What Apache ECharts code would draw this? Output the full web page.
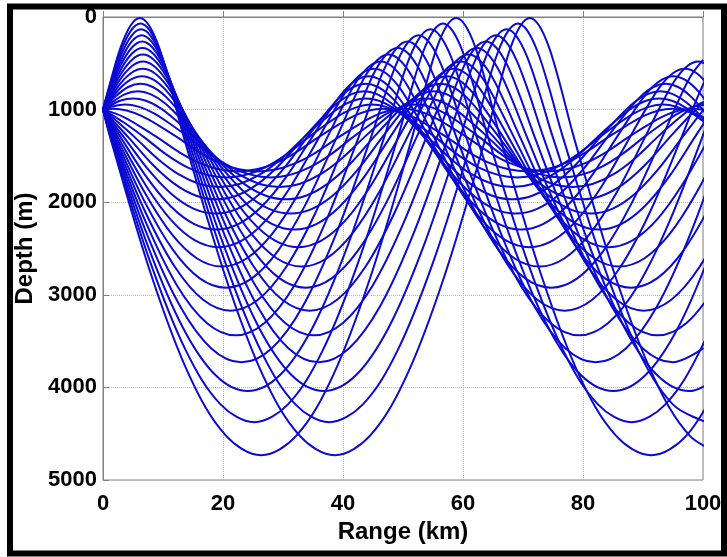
<!DOCTYPE html>
<html>
<head>
<meta charset="utf-8">
<script src="https://cdn.jsdelivr.net/npm/echarts@6/dist/echarts.min.js"></script>
<style>
html,body{margin:0;padding:0;background:#fff;}
#chart{width:727px;height:557px;}
</style>
</head>
<body>
<div id="chart"></div>
<script>
// Axis ticks
const rangeTicks = [0, 20, 40, 60, 80, 100];
const depthTicks = [0, 1000, 2000, 3000, 4000, 5000];
const xTitle = 'Range (km)';
const yTitle = 'Depth (m)';

// Rays launched upward from the 1000 m source: [range km, depth m]
const upRays = [
[[0,1000],[1.08,736],[2.91,333],[4.60,91],[6.14,10],[7.68,91],[9.37,333],[11.20,736],[13.48,1300],[20.40,2802],[26.69,3875],[32.73,4518],[38.64,4733],[44.55,4518],[50.59,3875],[56.88,2802],[63.80,1300],[66.08,736],[67.91,333],[69.60,91],[71.14,10],[72.68,91],[74.37,333],[76.20,736],[78.48,1300],[85.40,2802],[91.69,3875],[97.73,4518],[103.64,4733]],
[[0,1000],[1.05,762],[2.93,378],[4.66,147],[6.24,70],[7.82,147],[9.55,378],[11.43,762],[13.76,1300],[20.34,2645],[26.32,3606],[32.07,4183],[37.69,4375],[43.31,4183],[49.06,3606],[55.04,2645],[61.62,1300],[63.95,762],[65.83,378],[67.56,147],[69.14,70],[70.72,147],[72.45,378],[74.33,762],[76.66,1300],[83.24,2645],[89.22,3606],[94.97,4183],[100.59,4375]],
[[0,1000],[1.01,789],[2.94,425],[4.72,206],[6.34,133],[7.96,206],[9.74,425],[11.67,789],[14.06,1300],[20.31,2499],[26.00,3355],[31.46,3869],[36.80,4040],[42.14,3869],[47.60,3355],[53.29,2499],[59.54,1300],[61.93,789],[63.86,425],[65.64,206],[67.26,133],[68.88,206],[70.66,425],[72.59,789],[74.98,1300],[81.23,2499],[86.92,3355],[92.38,3869],[97.72,4040],[103.06,3869]],
[[0,1000],[0.96,817],[2.95,473],[4.77,266],[6.44,197],[8.11,266],[9.93,473],[11.92,817],[14.38,1300],[20.31,2362],[25.71,3121],[30.89,3576],[35.96,3728],[41.03,3576],[46.21,3121],[51.61,2362],[57.54,1300],[60.00,817],[61.99,473],[63.81,266],[65.48,197],[67.15,266],[68.97,473],[70.96,817],[73.42,1300],[79.35,2362],[84.75,3121],[89.93,3576],[95.00,3728],[100.07,3576]],
[[0,1000],[0.90,847],[2.94,523],[4.82,329],[6.53,264],[8.24,329],[10.12,523],[12.16,847],[14.69,1300],[20.32,2235],[25.44,2904],[30.36,3304],[35.17,3438],[39.98,3304],[44.90,2904],[50.02,2235],[55.65,1300],[58.18,847],[60.22,523],[62.10,329],[63.81,264],[65.52,329],[67.40,523],[69.44,847],[71.97,1300],[77.60,2235],[82.72,2904],[87.64,3304],[92.45,3438],[97.26,3304],[102.18,2904]],
[[0,1000],[0.80,877],[2.90,576],[4.83,394],[6.59,334],[8.35,394],[10.28,576],[12.38,877],[14.98,1300],[20.33,2119],[25.20,2703],[29.87,3054],[34.44,3171],[39.01,3054],[43.68,2703],[48.55,2119],[53.90,1300],[56.50,877],[58.60,576],[60.53,394],[62.29,334],[64.05,394],[65.98,576],[68.08,877],[70.68,1300],[76.03,2119],[80.90,2703],[85.57,3054],[90.14,3171],[94.71,3054],[99.38,2703],[104.25,2119]],
[[0,1000],[0.69,909],[2.85,630],[4.84,462],[6.65,406],[8.46,462],[10.45,630],[12.61,909],[15.29,1300],[20.37,2010],[24.99,2517],[29.43,2822],[33.77,2923],[38.11,2822],[42.55,2517],[47.17,2010],[52.25,1300],[54.93,909],[57.09,630],[59.08,462],[60.89,406],[62.70,462],[64.69,630],[66.85,909],[69.53,1300],[74.61,2010],[79.23,2517],[83.67,2822],[88.01,2923],[92.35,2822],[96.79,2517],[101.41,2010]],
[[0,1000],[0.52,942],[2.74,686],[4.79,532],[6.66,481],[8.53,532],[10.58,686],[12.80,942],[15.56,1300],[20.39,1910],[24.78,2346],[29.00,2608],[33.13,2695],[37.26,2608],[41.48,2346],[45.87,1910],[50.70,1300],[53.46,942],[55.68,686],[57.73,532],[59.60,481],[61.47,532],[63.52,686],[65.74,942],[68.50,1300],[73.33,1910],[77.72,2346],[81.94,2608],[86.07,2695],[90.20,2608],[94.42,2346],[98.81,1910],[103.64,1300]],
[[0,1000],[0.30,976],[2.60,744],[4.70,605],[6.63,559],[8.56,605],[10.66,744],[12.96,976],[15.80,1300],[20.40,1819],[24.58,2190],[28.60,2412],[32.53,2486],[36.46,2412],[40.48,2190],[44.66,1819],[49.26,1300],[52.10,976],[54.40,744],[56.50,605],[58.43,559],[60.36,605],[62.46,744],[64.76,976],[67.60,1300],[72.20,1819],[76.38,2190],[80.40,2412],[84.33,2486],[88.26,2412],[92.28,2190],[96.46,1819],[101.06,1300]],
[[0,1000],[2.34,804],[4.52,680],[6.50,639],[8.48,680],[10.66,804],[13.02,1011],[15.95,1300],[20.33,1735],[24.32,2046],[28.14,2233],[31.89,2295],[35.64,2233],[39.46,2046],[43.45,1735],[47.83,1300],[50.76,1011],[53.12,804],[55.30,680],[57.28,639],[59.26,680],[61.44,804],[63.80,1011],[66.73,1300],[71.11,1735],[75.10,2046],[78.92,2233],[82.67,2295],[86.42,2233],[90.24,2046],[94.23,1735],[98.61,1300],[101.53,1011]],
[[0,1000],[1.96,865],[4.20,756],[6.25,720],[8.30,756],[10.54,865],[12.98,1046],[16.00,1300],[20.20,1660],[24.01,1917],[27.67,2072],[31.26,2123],[34.85,2072],[38.51,1917],[42.32,1660],[46.52,1300],[49.54,1046],[51.98,865],[54.22,756],[56.27,720],[58.32,756],[60.56,865],[63.00,1046],[66.02,1300],[70.22,1660],[74.03,1917],[77.69,2072],[81.28,2123],[84.87,2072],[88.53,1917],[92.34,1660],[96.54,1300],[99.56,1046],[102.00,865]],
[[0,1000],[1.38,927],[3.69,833],[5.80,802],[7.91,833],[10.22,927],[12.73,1082],[15.84,1300],[19.86,1593],[23.52,1802],[27.03,1927],[30.47,1969],[33.91,1927],[37.42,1802],[41.08,1593],[45.10,1300],[48.21,1082],[50.72,927],[53.03,833],[55.14,802],[57.25,833],[59.56,927],[62.07,1082],[65.18,1300],[69.20,1593],[72.86,1802],[76.37,1927],[79.81,1969],[83.25,1927],[86.76,1802],[90.42,1593],[94.44,1300],[97.55,1082],[100.06,927]],
[[0,1000],[0.46,984],[2.84,905],[5.01,879],[7.18,905],[9.56,984],[12.14,1116],[15.34,1300],[19.21,1535],[22.74,1703],[26.12,1803],[29.43,1837],[32.74,1803],[36.12,1703],[39.65,1535],[43.52,1300],[46.72,1116],[49.30,984],[51.68,905],[53.85,879],[56.02,905],[58.40,984],[60.98,1116],[64.18,1300],[68.05,1535],[71.58,1703],[74.96,1803],[78.27,1837],[81.58,1803],[84.96,1703],[88.49,1535],[92.36,1300],[95.56,1116],[98.14,984],[100.52,905]],
[[0,1000],[1.47,968],[3.69,946],[5.91,968],[8.35,1035],[10.99,1145],[14.27,1300],[18.03,1489],[21.45,1624],[24.73,1705],[27.94,1732],[31.15,1705],[34.43,1624],[37.85,1489],[41.61,1300],[44.89,1145],[47.53,1035],[49.97,968],[52.19,946],[54.41,968],[56.85,1035],[59.49,1145],[62.77,1300],[66.53,1489],[69.95,1624],[73.23,1705],[76.44,1732],[79.65,1705],[82.93,1624],[86.35,1489],[90.11,1300],[93.39,1145],[96.03,1035],[98.47,968],[100.69,946]],
[[0,1000],[1.68,990],[3.94,1009],[6.41,1068],[9.09,1164],[12.42,1300],[16.10,1461],[19.45,1576],[22.67,1645],[25.82,1668],[28.97,1645],[32.19,1576],[35.54,1461],[39.22,1300],[42.55,1164],[45.23,1068],[47.70,1009],[49.96,990],[52.22,1009],[54.69,1068],[57.37,1164],[60.70,1300],[64.38,1461],[67.73,1576],[70.95,1645],[74.10,1668],[77.25,1645],[80.47,1576],[83.82,1461],[87.50,1300],[90.83,1164],[93.51,1068],[95.98,1009],[98.24,990],[100.50,1009]]
];

// Rays launched downward from the 1000 m source: [range km, depth m]
const downRays = [
[[0,1000],[1.20,1300],[8.12,2802],[14.41,3875],[20.45,4518],[26.36,4733],[32.27,4518],[38.31,3875],[44.60,2802],[51.52,1300],[53.80,736],[55.63,333],[57.32,91],[58.86,10],[60.40,91],[62.09,333],[63.92,736],[66.20,1300],[73.12,2802],[79.41,3875],[85.45,4518],[91.36,4733],[97.27,4518],[103.31,3875]],
[[0,1000],[1.28,1300],[7.86,2645],[13.84,3606],[19.59,4183],[25.21,4375],[30.83,4183],[36.58,3606],[42.56,2645],[49.14,1300],[51.47,762],[53.35,378],[55.08,147],[56.66,70],[58.24,147],[59.97,378],[61.85,762],[64.18,1300],[70.76,2645],[76.74,3606],[82.49,4183],[88.11,4375],[93.73,4183],[99.48,3606],[105.46,2645]],
[[0,1000],[1.38,1300],[7.63,2499],[13.32,3355],[18.78,3869],[24.12,4040],[29.46,3869],[34.92,3355],[40.61,2499],[46.86,1300],[49.25,789],[51.18,425],[52.96,206],[54.58,133],[56.20,206],[57.98,425],[59.91,789],[62.30,1300],[68.55,2499],[74.24,3355],[79.70,3869],[85.04,4040],[90.38,3869],[95.84,3355],[101.53,2499]],
[[0,1000],[1.50,1300],[7.43,2362],[12.83,3121],[18.01,3576],[23.08,3728],[28.15,3576],[33.33,3121],[38.73,2362],[44.66,1300],[47.12,817],[49.11,473],[50.93,266],[52.60,197],[54.27,266],[56.09,473],[58.08,817],[60.54,1300],[66.47,2362],[71.87,3121],[77.05,3576],[82.12,3728],[87.19,3576],[92.37,3121],[97.77,2362],[103.70,1300]],
[[0,1000],[1.63,1300],[7.26,2235],[12.38,2904],[17.30,3304],[22.11,3438],[26.92,3304],[31.84,2904],[36.96,2235],[42.59,1300],[45.12,847],[47.16,523],[49.04,329],[50.75,264],[52.46,329],[54.34,523],[56.38,847],[58.91,1300],[64.54,2235],[69.66,2904],[74.58,3304],[79.39,3438],[84.20,3304],[89.12,2904],[94.24,2235],[99.87,1300],[102.40,847]],
[[0,1000],[1.80,1300],[7.15,2119],[12.02,2703],[16.69,3054],[21.26,3171],[25.83,3054],[30.50,2703],[35.37,2119],[40.72,1300],[43.32,877],[45.42,576],[47.35,394],[49.11,334],[50.87,394],[52.80,576],[54.90,877],[57.50,1300],[62.85,2119],[67.72,2703],[72.39,3054],[76.96,3171],[81.53,3054],[86.20,2703],[91.07,2119],[96.42,1300],[99.02,877],[101.12,576]],
[[0,1000],[1.99,1300],[7.07,2010],[11.69,2517],[16.13,2822],[20.47,2923],[24.81,2822],[29.25,2517],[33.87,2010],[38.95,1300],[41.63,909],[43.79,630],[45.78,462],[47.59,406],[49.40,462],[51.39,630],[53.55,909],[56.23,1300],[61.31,2010],[65.93,2517],[70.37,2822],[74.71,2923],[79.05,2822],[83.49,2517],[88.11,2010],[93.19,1300],[95.87,909],[98.03,630],[100.02,462]],
[[0,1000],[2.24,1300],[7.07,1910],[11.46,2346],[15.68,2608],[19.81,2695],[23.94,2608],[28.16,2346],[32.55,1910],[37.38,1300],[40.14,942],[42.36,686],[44.41,532],[46.28,481],[48.15,532],[50.20,686],[52.42,942],[55.18,1300],[60.01,1910],[64.40,2346],[68.62,2608],[72.75,2695],[76.88,2608],[81.10,2346],[85.49,1910],[90.32,1300],[93.08,942],[95.30,686],[97.35,532],[99.22,481],[101.09,532]],
[[0,1000],[2.54,1300],[7.14,1819],[11.32,2190],[15.34,2412],[19.27,2486],[23.20,2412],[27.22,2190],[31.40,1819],[36.00,1300],[38.84,976],[41.14,744],[43.24,605],[45.17,559],[47.10,605],[49.20,744],[51.50,976],[54.34,1300],[58.94,1819],[63.12,2190],[67.14,2412],[71.07,2486],[75.00,2412],[79.02,2190],[83.20,1819],[87.80,1300],[90.64,976],[92.94,744],[95.04,605],[96.97,559],[98.90,605],[101.00,744]],
[[0,1000],[2.95,1300],[7.33,1735],[11.32,2046],[15.14,2233],[18.89,2295],[22.64,2233],[26.46,2046],[30.45,1735],[34.83,1300],[37.76,1011],[40.12,804],[42.30,680],[44.28,639],[46.26,680],[48.44,804],[50.80,1011],[53.73,1300],[58.11,1735],[62.10,2046],[65.92,2233],[69.67,2295],[73.42,2233],[77.24,2046],[81.23,1735],[85.61,1300],[88.54,1011],[90.90,804],[93.08,680],[95.06,639],[97.04,680],[99.22,804],[101.58,1011]],
[[0,1000],[0.48,1046],[3.50,1300],[7.70,1660],[11.51,1917],[15.17,2072],[18.76,2123],[22.35,2072],[26.01,1917],[29.82,1660],[34.02,1300],[37.04,1046],[39.48,865],[41.72,756],[43.77,720],[45.82,756],[48.06,865],[50.50,1046],[53.52,1300],[57.72,1660],[61.53,1917],[65.19,2072],[68.78,2123],[72.37,2072],[76.03,1917],[79.84,1660],[84.04,1300],[87.06,1046],[89.50,865],[91.74,756],[93.79,720],[95.84,756],[98.08,865],[100.52,1046]],
[[0,1000],[1.13,1082],[4.24,1300],[8.26,1593],[11.92,1802],[15.43,1927],[18.87,1969],[22.31,1927],[25.82,1802],[29.48,1593],[33.50,1300],[36.61,1082],[39.12,927],[41.43,833],[43.54,802],[45.65,833],[47.96,927],[50.47,1082],[53.58,1300],[57.60,1593],[61.26,1802],[64.77,1927],[68.21,1969],[71.65,1927],[75.16,1802],[78.82,1593],[82.84,1300],[85.95,1082],[88.46,927],[90.77,833],[92.88,802],[94.99,833],[97.30,927],[99.81,1082],[102.92,1300]],
[[0,1000],[2.12,1116],[5.32,1300],[9.19,1535],[12.72,1703],[16.10,1803],[19.41,1837],[22.72,1803],[26.10,1703],[29.63,1535],[33.50,1300],[36.70,1116],[39.28,984],[41.66,905],[43.83,879],[46.00,905],[48.38,984],[50.96,1116],[54.16,1300],[58.03,1535],[61.56,1703],[64.94,1803],[68.25,1837],[71.56,1803],[74.94,1703],[78.47,1535],[82.34,1300],[85.54,1116],[88.12,984],[90.50,905],[92.67,879],[94.84,905],[97.22,984],[99.80,1116],[103.00,1300]],
[[0,1000],[0.97,1035],[3.61,1145],[6.89,1300],[10.65,1489],[14.07,1624],[17.35,1705],[20.56,1732],[23.77,1705],[27.05,1624],[30.47,1489],[34.23,1300],[37.51,1145],[40.15,1035],[42.59,968],[44.81,946],[47.03,968],[49.47,1035],[52.11,1145],[55.39,1300],[59.15,1489],[62.57,1624],[65.85,1705],[69.06,1732],[72.27,1705],[75.55,1624],[78.97,1489],[82.73,1300],[86.01,1145],[88.65,1035],[91.09,968],[93.31,946],[95.53,968],[97.97,1035],[100.61,1145]],
[[0,1000],[0.58,1009],[3.05,1068],[5.73,1164],[9.06,1300],[12.74,1461],[16.09,1576],[19.31,1645],[22.46,1668],[25.61,1645],[28.83,1576],[32.18,1461],[35.86,1300],[39.19,1164],[41.87,1068],[44.34,1009],[46.60,990],[48.86,1009],[51.33,1068],[54.01,1164],[57.34,1300],[61.02,1461],[64.37,1576],[67.59,1645],[70.74,1668],[73.89,1645],[77.11,1576],[80.46,1461],[84.14,1300],[87.47,1164],[90.15,1068],[92.62,1009],[94.88,990],[97.14,1009],[99.61,1068],[102.29,1164]]
];

const rayColor = '#0a0ad2';
const labelFont = 'Liberation Sans, Arial, sans-serif';

const series = upRays.concat(downRays).map(function (ray, i) {
  return {
    type: 'line',
    name: 'ray' + i,
    data: ray,
    showSymbol: false,
    symbol: 'none',
    smooth: 0.35,
    clip: true,
    lineStyle: { color: rayColor, width: 2 },
    emphasis: { disabled: true },
    silent: true
  };
});

function plainNumber(v) { return String(v); }

const chart = echarts.init(document.getElementById('chart'), null, { renderer: 'canvas' });
chart.setOption({
  animation: false,
  backgroundColor: '#ffffff',
  grid: { left: 103, top: 17, width: 600, height: 463, show: true, borderColor: '#808080', borderWidth: 1, backgroundColor: 'transparent' },
  xAxis: {
    type: 'value',
    min: rangeTicks[0],
    max: rangeTicks[rangeTicks.length - 1],
    interval: rangeTicks[1] - rangeTicks[0],
    name: xTitle,
    nameLocation: 'middle',
    nameGap: 38,
    nameTextStyle: { fontFamily: labelFont, fontWeight: 'bold', fontSize: 24, color: '#000' },
    axisLine: { show: true, lineStyle: { color: '#808080', width: 1 } },
    axisTick: { show: true, inside: true, length: 6, lineStyle: { color: '#808080' } },
    axisLabel: { fontFamily: labelFont, fontWeight: 'bold', fontSize: 22, color: '#000', margin: 13, formatter: plainNumber },
    splitLine: { show: true, lineStyle: { color: '#b8b8b8', type: 'dotted', width: 1 } }
  },
  yAxis: {
    type: 'value',
    inverse: true,
    min: depthTicks[0],
    max: depthTicks[depthTicks.length - 1],
    interval: depthTicks[1] - depthTicks[0],
    name: yTitle,
    nameLocation: 'middle',
    nameGap: 51,
    nameRotate: 90,
    nameTextStyle: { fontFamily: labelFont, fontWeight: 'bold', fontSize: 24, color: '#000' },
    axisLine: { show: true, lineStyle: { color: '#808080', width: 1 } },
    axisTick: { show: true, inside: true, length: 6, lineStyle: { color: '#808080' } },
    axisLabel: { fontFamily: labelFont, fontWeight: 'bold', fontSize: 22, color: '#000', margin: 6, formatter: plainNumber },
    splitLine: { show: true, lineStyle: { color: '#b8b8b8', type: 'dotted', width: 1 } }
  },
  graphic: [{
    type: 'rect',
    shape: { x: 10, y: 6.5, width: 714, height: 547 },
    style: { fill: null, stroke: '#000', lineWidth: 6 },
    z: 100,
    silent: true
  }],
  series: series
});
</script>
</body>
</html>
